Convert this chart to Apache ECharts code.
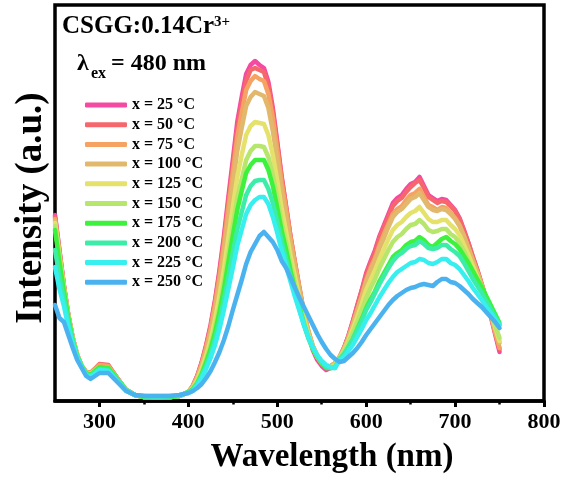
<!DOCTYPE html>
<html>
<head>
<meta charset="utf-8">
<script src="https://cdn.jsdelivr.net/npm/echarts@6/dist/echarts.min.js"></script>
<style>
html,body{margin:0;padding:0;background:#ffffff;}
#chart{width:566px;height:481px;}
</style>
</head>
<body>
<div id="chart"></div>
<script>
// Emission spectra of CSGG:0.14Cr3+ under 480 nm excitation at rising temperature
const wavelengths = [250,255,260,265,270,275,280,285,290,300,310,320,330,340,350,360,370,380,390,
  400,405,410,415,420,425,430,435,440,445,450,455,460,465,470,475,480,485,490,495,500,505,510,515,520,525,530,535,540,545,550,555,560,565,
  570,575,580,585,590,595,600,605,610,615,620,625,630,635,640,645,650,655,660,665,670,675,680,685,690,695,700,705,710,715,720,725,730,735,740,745,750];

const temperatures = [25,50,75,100,125,150,175,200,225,250];
const seriesColors = ['#f54aa2','#f5676d','#f6a263','#e2b96c','#e4e26b','#b6e66b','#3df23d','#3cedaa','#38eff0','#4ab3ef'];

const int25 = [186,151,116,86,63,46,35,29,28,36,35,23,11,6,4,4,4,4,5,
  9,15,25,39,56,76,101,131,165,204,241,279,304,327,336,340,336,333,319,293,259,224,194,164,137,111,86,66,51,41,35,31,33,37,
  43,53,65,80,96,111,128,140,151,165,176,187,198,203,206,212,217,219,224,215,206,203,200,202,201,196,191,183,171,158,144,131,116,101,85,67,49];
const int50 = [184,150,115,86,63,46,35,29,28,37,36,23,11,6,4,4,4,4,5,
  9,15,25,38,55,74,99,128,161,199,235,272,297,320,331,333,331,329,315,289,257,223,194,164,138,113,88,69,54,44,37,33,35,38,
  44,53,65,79,95,110,126,138,149,163,174,184,195,200,203,209,214,218,221,213,204,201,198,200,199,195,190,182,170,158,144,131,117,102,87,69,52];
const int75 = [182,148,115,85,63,46,35,29,28,36,35,23,11,6,4,4,4,4,5,
  9,15,24,37,53,72,96,124,156,193,228,264,288,311,320,325,322,320,307,283,251,218,191,162,137,112,89,70,55,45,39,34,35,38,
  43,52,63,77,91,105,121,133,143,156,167,177,187,192,195,201,206,208,212,204,196,194,191,194,193,188,183,176,165,153,140,128,114,100,86,69,53];
const int100 = [180,146,113,85,62,46,35,29,27,34,33,22,11,6,4,4,4,4,5,
  9,14,23,35,50,68,90,117,147,182,216,250,273,295,304,309,307,305,293,270,241,210,184,157,133,110,87,69,55,45,39,35,35,38,
  44,52,63,76,90,104,119,130,140,153,163,174,184,189,192,197,202,204,208,201,194,191,190,192,191,187,182,175,165,153,141,129,116,103,89,73,58];
const int125 = [178,145,113,84,62,46,35,28,27,34,33,22,11,6,4,4,4,4,5,
  9,13,21,32,45,61,81,105,132,163,194,224,246,266,275,279,278,277,266,246,220,192,169,145,124,103,83,66,53,44,38,34,34,36,
  43,50,60,72,84,97,111,121,131,142,152,162,171,176,179,184,188,190,194,188,182,179,179,181,181,176,172,166,156,146,135,124,113,101,88,74,60];
const int150 = [175,143,112,84,62,45,35,28,27,33,33,22,11,6,4,4,4,4,5,
  9,12,19,29,41,56,74,95,119,148,175,203,222,241,250,255,255,254,244,226,203,178,158,136,117,98,80,65,53,44,38,34,33,35,
  43,49,58,68,79,91,103,113,122,133,142,151,159,164,167,172,176,177,181,177,171,169,170,172,172,167,164,158,150,140,130,121,111,100,89,76,63];
const int175 = [171,139,110,83,61,45,35,28,26,34,33,22,11,6,4,4,4,4,5,
  9,12,18,27,39,52,69,89,112,139,165,191,210,228,236,241,241,241,231,215,193,170,151,130,112,94,77,63,52,44,38,33,33,34,
  42,46,54,62,72,82,93,102,110,120,128,136,144,148,151,156,159,160,164,161,156,154,158,162,164,160,157,152,145,138,130,122,114,105,96,87,78];
const int200 = [151,124,102,78,59,44,34,27,25,32,31,21,11,6,5,4,4,5,5,
  9,11,17,25,35,47,62,80,101,124,148,171,189,206,215,220,221,221,212,198,179,159,142,124,107,91,76,63,53,45,39,34,33,33,
  42,47,54,62,71,80,91,99,108,117,125,133,140,145,148,152,155,156,160,157,153,152,153,156,156,152,149,145,138,130,122,115,108,100,92,84,76];
const int225 = [134,112,95,74,57,43,34,26,24,31,30,20,10,6,5,5,5,5,6,
  8,10,16,23,32,43,56,72,91,112,133,155,171,187,196,201,204,204,197,184,168,150,135,119,104,90,76,64,54,46,40,36,34,33,
  41,44,50,56,64,72,81,88,96,104,111,118,124,129,132,135,138,139,142,141,138,137,139,142,142,138,136,132,126,120,113,107,101,94,88,82,76];
const int250 = [96,83,79,66,53,41,33,25,22,28,28,19,10,6,5,5,5,5,6,
  8,10,13,17,23,30,39,49,61,75,91,106,121,137,149,157,165,169,164,159,151,140,133,123,113,103,94,85,76,67,59,52,46,42,
  39,40,44,48,53,59,66,72,78,84,90,96,101,105,108,111,113,114,116,117,116,115,119,122,122,119,118,115,111,107,102,98,94,89,84,79,73];

const intensities = [int25,int50,int75,int100,int125,int150,int175,int200,int225,int250];
const xTickLabels = [300,400,500,600,700,800];
const xMinorTicks = [350,450,550,650,750];

const serif = '"Liberation Serif","Times New Roman",serif';
const chart = echarts.init(document.getElementById('chart'), null, {renderer:'canvas'});

const series = intensities.map((vals, k) => ({
  name: 'x = ' + temperatures[k] + ' \u00B0C',
  type: 'line',
  data: wavelengths.map((w, i) => [w, vals[i]]),
  showSymbol: false,
  symbol: 'none',
  smooth: false,
  lineStyle: {width: 4.5, color: seriesColors[k], join: 'round', cap: 'round'},
  itemStyle: {color: seriesColors[k]},
  xAxisIndex: 0,
  yAxisIndex: 0,
  z: 2 + k
}));

chart.setOption({
  animation: false,
  backgroundColor: '#ffffff',
  grid: {left: 55, right: 22, top: 5, bottom: 80, show: true, borderColor: '#000', borderWidth: 3.5, backgroundColor: 'transparent'},
  xAxis: [{
    type: 'value', min: 250, max: 800,
    axisLine: {show: true, lineStyle: {color: '#000', width: 3.5}},
    axisTick: {show: true, customValues: xTickLabels, length: 6, inside: false, lineStyle: {color: '#000', width: 3}},
    axisLabel: {show: true, customValues: xTickLabels, margin: 10, color: '#000', fontFamily: serif, fontWeight: 'bold', fontSize: 22},
    splitLine: {show: false}
  }, {
    type: 'value', min: 250, max: 800, position: 'bottom', gridIndex: 0,
    axisLine: {show: false},
    axisTick: {show: true, customValues: xMinorTicks, length: 3.5, inside: false, lineStyle: {color: '#000', width: 2.5}},
    axisLabel: {show: false},
    splitLine: {show: false}
  }],
  yAxis: {type: 'value', min: 0, max: 396, show: false, splitLine: {show: false}},
  legend: {
    orient: 'vertical', left: 80, top: 92,
    itemWidth: 42, itemHeight: 5, itemGap: 3.7, icon: 'roundRect',
    textStyle: {color: '#000', fontFamily: serif, fontWeight: 'bold', fontSize: 16},
    data: series.map(s => s.name)
  },
  graphic: [
    {type: 'text', left: 62, top: 14, style: {text: 'CSGG:0.14Cr', font: 'bold 25px ' + serif, fill: '#000'}},
    {type: 'text', left: 214, top: 15, style: {text: '3+', font: 'bold 15px ' + serif, fill: '#000'}},
    {type: 'text', left: 77, top: 52, style: {text: '\u03BB', font: 'bold 24px ' + serif, fill: '#000'}},
    {type: 'text', left: 91, top: 66, style: {text: 'ex', font: 'bold 16px ' + serif, fill: '#000'}},
    {type: 'text', left: 111, top: 52, style: {text: '= 480 nm', font: 'bold 24px ' + serif, fill: '#000'}},
    {type: 'text', x: 31, y: 208, rotation: Math.PI / 2, style: {text: 'Intensity (a.u.)', font: 'bold 37px ' + serif, fill: '#000', align: 'center', verticalAlign: 'middle'}},
    {type: 'text', x: 332, y: 457, style: {text: 'Wavelength (nm)', font: 'bold 33px ' + serif, fill: '#000', align: 'center', verticalAlign: 'middle'}}
  ],
  series: series
});
</script>
</body>
</html>
